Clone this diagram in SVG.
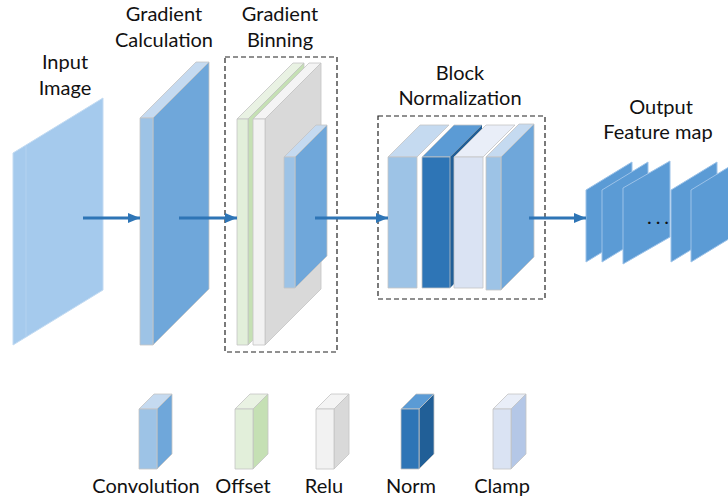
<svg xmlns="http://www.w3.org/2000/svg" width="728" height="504" viewBox="0 0 728 504">
  <defs>
    <marker id="arrowhead" viewBox="0 0 12 10" refX="12" refY="5" markerWidth="12" markerHeight="10" markerUnits="userSpaceOnUse" orient="auto">
      <path d="M0,0 L12,5 L0,10 Z" fill="#2e75b6"/>
    </marker>
  </defs>
  <style>
    text { font-family: "Lato", "Open Sans", "Liberation Sans", sans-serif; font-size: 20px; fill: #111111; text-anchor: middle; }
    .edge { stroke: #c4c4c4; stroke-width: 0.8; stroke-linejoin: round; }
    .frame { fill: none; stroke: #222222; stroke-width: 1.2; stroke-dasharray: 5 3; }
    .link { stroke: #2e75b6; stroke-width: 3; fill: none; marker-end: url(#arrowhead); }
    .conv-front { fill: #9dc3e6; } .conv-top { fill: #c5daf0; } .conv-side { fill: #6fa7da; }
    .off-front { fill: #e2efda; } .off-top { fill: #e9f2e3; } .off-side { fill: #c5e0b4; }
    .relu-front { fill: #f2f2f2; } .relu-top { fill: #f4f4f4; } .relu-side { fill: #d9d9d9; }
    .norm-front { fill: #2e75b6; } .norm-top { fill: #5b9bd5; } .norm-side { fill: #215f97; }
    .clamp-front { fill: #dae3f3; } .clamp-top { fill: #e9eef8; } .clamp-side { fill: #b4c7e7; }
    .fmap { fill: #5b9bd5; stroke: #9cc2e8; stroke-width: 1; }
    .plane { fill: #a5caed; stroke: #c3dbf2; stroke-width: 1; }
  </style>

  <!-- Input image plane -->
  <g id="input-image">
    <polygon class="plane" points="13,153 103,98 103,290 13,345"/>
    <line x1="26" y1="146" x2="26" y2="337" stroke="#b3d2f0" stroke-width="1"/>
    <text x="65" y="69">Input</text>
    <text x="65" y="95">Image</text>
  </g>

  <!-- Gradient calculation slab -->
  <g id="gradient-calculation">
    <polygon class="conv-top edge" points="140,118 153,118 209,62 196,62"/>
    <polygon class="conv-side edge" points="153,118 209,62 209,289 153,345"/>
    <rect class="conv-front edge" x="140" y="118" width="13" height="227"/>
    <text x="164" y="21">Gradient</text>
    <text x="164" y="47">Calculation</text>
  </g>

  <!-- Gradient binning: offset, relu and convolution slabs -->
  <g id="gradient-binning">
    <rect class="frame" x="225" y="57" width="112" height="295"/>
    <polygon class="off-top edge" points="237,119 248,119 304,63 293,63"/>
    <polygon class="off-side edge" points="248,119 304,63 304,289 248,345"/>
    <rect class="off-front edge" x="237" y="119" width="11" height="226"/>
    <polygon class="relu-top edge" points="253,119 265,119 321,63 309,63"/>
    <polygon class="relu-side edge" points="265,119 321,63 321,289 265,345"/>
    <rect class="relu-front edge" x="253" y="119" width="12" height="226"/>
    <polygon class="conv-top edge" points="284,157 295,157 327,125 316,125"/>
    <polygon class="conv-side edge" points="295,157 327,125 327,256 295,288"/>
    <rect class="conv-front edge" x="284" y="157" width="11" height="131"/>
    <text x="280" y="21">Gradient</text>
    <text x="280" y="47">Binning</text>
  </g>

  <!-- Block normalization: convolution, norm, clamp, convolution -->
  <g id="block-normalization">
    <rect class="frame" x="378" y="116" width="167" height="183"/>
    <polygon class="conv-top edge" points="388,157 417,157 449,125 420,125"/>
    <rect class="conv-front edge" x="388" y="157" width="29" height="131"/>
    <polygon class="norm-top edge" points="422,157 450,157 482,125 454,125"/>
    <polygon class="norm-side" points="450,157 482,125 482,256 450,288"/>
    <rect class="norm-front edge" x="422" y="157" width="28" height="131"/>
    <polygon class="clamp-top edge" points="454,157 483,157 515,125 486,125"/>
    <rect class="clamp-front edge" x="454" y="157" width="29" height="131"/>
    <polygon class="conv-top edge" points="486,157 501,157 534,124 519,124"/>
    <polygon class="conv-side edge" points="501,157 534,124 534,257 501,290"/>
    <rect class="conv-front edge" x="486" y="157" width="15" height="133"/>
    <text x="460" y="80">Block</text>
    <text x="460" y="105">Normalization</text>
  </g>

  <!-- Output feature maps -->
  <g id="output-feature-map">
    <polygon class="fmap" points="586,190 632,162 632,234 586,262"/>
    <polygon class="fmap" points="602,190 648,162 648,234 602,262"/>
    <polygon class="fmap" points="623,188 670,161 670,237 623,264"/>
    <text x="660" y="224" style="font-size:20px; letter-spacing:4px">...</text>
    <polygon class="fmap" points="671,190 717,162 717,234 671,262"/>
    <polygon class="fmap" points="691,190 737,162 737,234 691,262"/>
    <text x="661" y="114">Output</text>
    <text x="658" y="139">Feature map</text>
  </g>

  <!-- Legend -->
  <g id="legend-convolution">
    <polygon class="conv-top edge" points="139,409 157,409 172,394 154,394"/>
    <polygon class="conv-side edge" points="157,409 172,394 172,454 157,469"/>
    <rect class="conv-front edge" x="139" y="409" width="18" height="60"/>
    <text x="146" y="493">Convolution</text>
  </g>
  <g id="legend-offset">
    <polygon class="off-top edge" points="235,409 253,409 268,394 250,394"/>
    <polygon class="off-side edge" points="253,409 268,394 268,454 253,469"/>
    <rect class="off-front edge" x="235" y="409" width="18" height="60"/>
    <text x="243" y="493">Offset</text>
  </g>
  <g id="legend-relu">
    <polygon class="relu-top edge" points="316,409 334,409 349,394 331,394"/>
    <polygon class="relu-side edge" points="334,409 349,394 349,454 334,469"/>
    <rect class="relu-front edge" x="316" y="409" width="18" height="60"/>
    <text x="324" y="493">Relu</text>
  </g>
  <g id="legend-norm">
    <polygon class="norm-top edge" points="401,409 419,409 434,394 416,394"/>
    <polygon class="norm-side edge" points="419,409 434,394 434,454 419,469"/>
    <rect class="norm-front edge" x="401" y="409" width="18" height="60"/>
    <text x="411" y="493">Norm</text>
  </g>
  <g id="legend-clamp">
    <polygon class="clamp-top edge" points="493,409 511,409 526,394 508,394"/>
    <polygon class="clamp-side edge" points="511,409 526,394 526,454 511,469"/>
    <rect class="clamp-front edge" x="493" y="409" width="18" height="60"/>
    <text x="502" y="493">Clamp</text>
  </g>

  <!-- Connectors -->
  <g id="connectors">
    <line class="link" x1="83" y1="218" x2="140" y2="218"/>
    <line class="link" x1="179" y1="218" x2="237" y2="218"/>
    <line class="link" x1="315" y1="218" x2="388" y2="218"/>
    <line class="link" x1="529" y1="218" x2="586" y2="218"/>
  </g>
</svg>
